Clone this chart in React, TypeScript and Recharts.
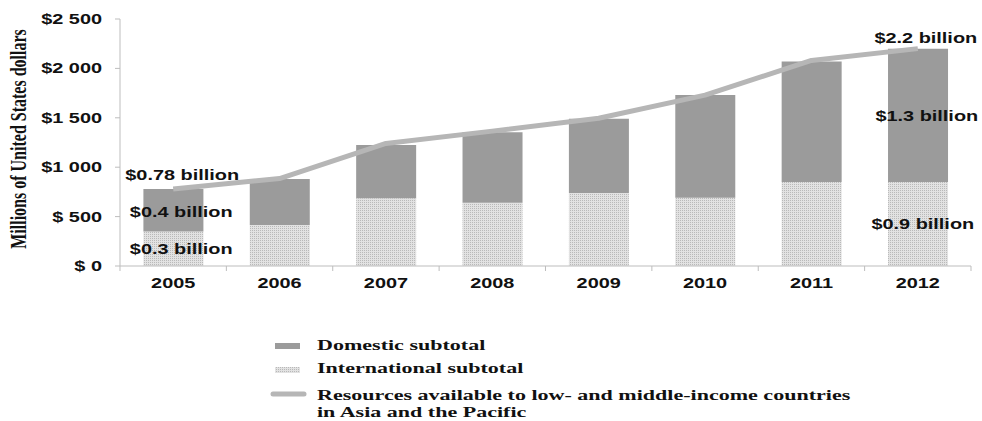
import {
  Bar,
  ComposedChart,
  Line,
  ReferenceDot,
  XAxis,
  YAxis,
} from 'recharts'

const years = ['2005', '2006', '2007', '2008', '2009', '2010', '2011', '2012']
const international = [350, 415, 685, 640, 740, 690, 850, 850]
const domestic = [430, 465, 540, 715, 750, 1040, 1220, 1350]
const resources = [780, 885, 1240, 1365, 1495, 1730, 2080, 2200]
const yTicks = [0, 500, 1000, 1500, 2000, 2500]

const data = years.map((year, i) => ({
  year,
  international: international[i],
  domestic: domestic[i],
  resources: resources[i],
}))

const SANS = '"Liberation Sans", Arial, sans-serif'
const SERIF = '"Liberation Serif", "Times New Roman", serif'
const DOMESTIC = '#9b9b9b'
const LINE = '#b6b6b6'
const AXIS = '#bdbdbd'
// the type in this figure is drawn wide
const WIDE = 1.42
const WIDE_SERIF = 1.47

function money(v: number): string {
  if (v < 1000) return `$ ${v}`
  return `$${Math.floor(v / 1000)} ${String(v % 1000).padStart(3, '0')}`
}

function WideText({ x, y, anchor, children, serif, size }: any) {
  return (
    <text
      transform={`translate(${x},${y}) scale(${serif ? WIDE_SERIF : WIDE},1)`}
      textAnchor={anchor ?? 'middle'}
      fontFamily={serif ? SERIF : SANS}
      fontWeight="bold"
      fontSize={size ?? 14}
      fill="#111"
    >
      {children}
    </text>
  )
}

// year labels plus the between-category tick marks
function YearTick(props: any) {
  const { x, y, payload, index } = props
  const half = 53.2
  return (
    <g>
      <line x1={x - half} x2={x - half} y1={y - 8} y2={y - 3} stroke={AXIS} />
      {index === years.length - 1 && (
        <line x1={x + half} x2={x + half} y1={y - 8} y2={y - 3} stroke={AXIS} />
      )}
      <WideText x={x} y={y + 14}>
        {payload.value}
      </WideText>
    </g>
  )
}

function MoneyTick(props: any) {
  const { x, y, payload } = props
  return (
    <WideText x={x} y={y + 5} anchor="end">
      {money(payload.value)}
    </WideText>
  )
}

function note(text: string, dx: number, dy: number) {
  return (props: any) => (
    <WideText x={props.cx + dx} y={props.cy + dy}>
      {text}
    </WideText>
  )
}

// axis title and legend, drawn over the chart
function Overlay() {
  return (
    <svg
      width={982}
      height={421}
      style={{ position: 'absolute', left: 0, top: 0, pointerEvents: 'none' }}
    >
      <defs>
        <pattern id="legend-dots" width="2" height="2" patternUnits="userSpaceOnUse">
          <rect width="2" height="2" fill="#e2e2e2" />
          <rect width="1" height="1" fill="#b9b9b9" />
        </pattern>
      </defs>
      <text
        transform={`translate(26,139) scale(${WIDE_SERIF},1) rotate(-90)`}
        textAnchor="middle"
        fontFamily={SERIF}
        fontWeight="bold"
        fontSize={16}
        fill="#111"
      >
        Millions of United States dollars
      </text>
      <g transform="translate(0,325)">
        <rect x={275} y={18} width={25} height={6} fill={DOMESTIC} />
        <WideText x={317} y={25} anchor="start" serif size={15}>
          Domestic subtotal
        </WideText>
        <rect x={275} y={42} width={25} height={6} fill="url(#legend-dots)" />
        <WideText x={317} y={48} anchor="start" serif size={15}>
          International subtotal
        </WideText>
        <line
          x1={273}
          x2={304}
          y1={69}
          y2={69}
          stroke={LINE}
          strokeWidth={5}
          strokeLinecap="round"
        />
        <WideText x={317} y={75} anchor="start" serif size={15}>
          Resources available to low- and middle-income countries
        </WideText>
        <WideText x={317} y={92} anchor="start" serif size={15}>
          in Asia and the Pacific
        </WideText>
      </g>
    </svg>
  )
}

export default function App() {
  return (
    <div style={{ position: 'relative', width: 982, height: 421, background: '#fff' }}>
      <style>{'body{margin:0}'}</style>
      <ComposedChart
        width={982}
        height={421}
        data={data}
        margin={{ top: 19, right: 11, bottom: 125, left: 0 }}
        barCategoryGap="22%"
      >
        <defs>
          <pattern id="intl-dots" width="2" height="2" patternUnits="userSpaceOnUse">
            <rect width="2" height="2" fill="#e2e2e2" />
            <rect width="1" height="1" fill="#b9b9b9" />
          </pattern>
        </defs>
        <XAxis
          dataKey="year"
          height={30}
          stroke={AXIS}
          tickLine={false}
          tick={<YearTick />}
        />
        <YAxis
          width={120}
          domain={[0, 2500]}
          ticks={yTicks}
          stroke={AXIS}
          tickSize={5}
          tickMargin={13}
          tick={<MoneyTick />}
        />
        <Bar
          dataKey="international"
          stackId="a"
          fill="url(#intl-dots)"
          isAnimationActive={false}
        />
        <Bar dataKey="domestic" stackId="a" fill={DOMESTIC} isAnimationActive={false} />
        <Line
          type="linear"
          dataKey="resources"
          stroke={LINE}
          strokeWidth={5}
          strokeLinejoin="round"
          dot={false}
          isAnimationActive={false}
        />
        <ReferenceDot x="2005" y={resources[0]} shape={note('$0.78 billion', 9, -9)} />
        <ReferenceDot
          x="2005"
          y={international[0] + domestic[0] / 2}
          shape={note('$0.4 billion', 8, 7)}
        />
        <ReferenceDot
          x="2005"
          y={international[0] / 2}
          shape={note('$0.3 billion', 8, 5)}
        />
        <ReferenceDot x="2012" y={resources[7]} shape={note('$2.2 billion', 8, -6)} />
        <ReferenceDot
          x="2012"
          y={international[7] + domestic[7] / 2}
          shape={note('$1.3 billion', 9, 6)}
        />
        <ReferenceDot
          x="2012"
          y={international[7] / 2}
          shape={note('$0.9 billion', 5, 5)}
        />
      </ComposedChart>
      <Overlay />
    </div>
  )
}
